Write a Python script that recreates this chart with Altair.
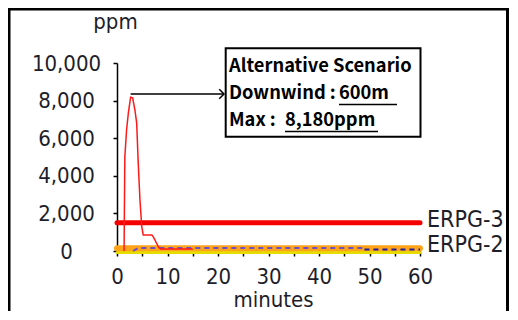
import altair as alt
import pandas as pd

# ---- data ----
red_t = [1.4, 1.55, 1.9, 2.25, 2.7, 3.1, 3.55, 3.9, 4.2, 4.55, 4.9, 5.2, 6.9, 7.2, 8.2, 8.6, 15.0]
red_ppm = [0, 5000, 6450, 7350, 8180, 8150, 7500, 6800, 4700, 2700, 1300, 850, 850, 750, 220, 110, 110]

dash1_t = [3.2, 4.2, 49]
dash1_ppm = [0, 160, 160]
dash2_t = [49, 60]
dash2_ppm = [80, 80]

erpg_names = ["ERPG-1", "ERPG-2", "ERPG-3"]
erpg_ppm = [25, 150, 1500]
erpg_colors = ["#e6dc00", "#ffa31a", "#f50000"]
erpg_widths = [3, 6, 5]
erpg_labelled = [False, True, True]
time_span = [0, 60]

x_ticks = list(range(0, 61, 5))
y_ticks = [0, 2000, 4000, 6000, 8000, 10000]

peak_t = 2.7
note_lines = ["Alternative Scenario", "Downwind :", "Max :"]
note_values = ["", "600m", "8,180ppm"]

FONT = "DejaVu Sans Condensed, DejaVu Sans, sans-serif"
BOLD = "Noto Sans CJK KR, Noto Sans, sans-serif"
TXT = "#1e1e2a"

W, H = 303, 188
PADL, PADT = 109, 55
CANVAS_W, CANVAS_H = 501, 303

x_axis = alt.Axis(values=x_ticks, labelExpr="datum.value % 10 == 0 ? datum.label : ''",
                  labelFlush=False, labelOverlap=False,
                  title="minutes", titleX=156, titleY=55, titleBaseline="alphabetic",
                  titleAlign="center", tickSize=5, labelPadding=10, grid=False)
y_axis = alt.Axis(values=y_ticks, labelExpr="format(datum.value, ',')", title="ppm",
                  labelFlush=False, labelOverlap=False,
                  titleAngle=0, titleX=-2, titleY=-35,
                  titleAlign="center", titleBaseline="alphabetic", tickSize=4,
                  labelAlign="center", labelBaseline="middle", labelPadding=47, grid=False)

def X(f):
    return alt.X(f"{f}:Q", scale=alt.Scale(domain=[0, 60], nice=False, zero=False), axis=x_axis)

def Y(f):
    return alt.Y(f"{f}:Q", scale=alt.Scale(domain=[0, 10000], nice=False), axis=y_axis)

one = pd.DataFrame({"a": [0]})

frame = alt.Chart(one).mark_rect(fillOpacity=0, stroke="black", strokeWidth=3).encode(
    x=alt.value(-108), x2=alt.value(CANVAS_W - PADL - 1.5), y=alt.value(-54), y2=alt.value(340))

layers = [frame]

for name, v, c, w in zip(erpg_names, erpg_ppm, erpg_colors, erpg_widths):
    d = pd.DataFrame({"t": time_span, "ppm": [v, v]})
    off = 2 if name == "ERPG-1" else 0
    layers.append(alt.Chart(d).mark_line(color=c, strokeWidth=w, strokeCap="round", yOffset=off)
                  .encode(x=X("t"), y=Y("ppm")))

d1 = pd.DataFrame({"t": dash1_t, "ppm": dash1_ppm})
d2 = pd.DataFrame({"t": dash2_t, "ppm": dash2_ppm})
layers.append(alt.Chart(d1).mark_line(color="#6a4fc8", strokeWidth=2, strokeDash=[5, 4])
              .encode(x=X("t"), y=Y("ppm")))
layers.append(alt.Chart(d2).mark_line(color="#1f1f99", strokeWidth=2, strokeDash=[5, 4])
              .encode(x=X("t"), y=Y("ppm")))

red = pd.DataFrame({"t": red_t, "ppm": red_ppm})
layers.append(alt.Chart(red).mark_line(color="#ff1a1a", strokeWidth=1.5)
              .encode(x=X("t"), y=Y("ppm")))

lab = pd.DataFrame({"name": [n for n, l in zip(erpg_names, erpg_labelled) if l],
                    "ppm": [v for v, l in zip(erpg_ppm, erpg_labelled) if l],
                    "t": [time_span[1]] * sum(erpg_labelled)})
layers.append(alt.Chart(lab).mark_text(align="left", baseline="middle", dx=7, dy=-3,
                                       font=FONT, fontSize=23, color=TXT)
              .encode(x=X("t"), y=Y("ppm"), text="name:N"))

# arrow from the peak to the note box
arr = pd.DataFrame({"t": [peak_t]})
layers.append(alt.Chart(arr).mark_rule(color="black", strokeWidth=1.5)
              .encode(x=X("t"), x2=alt.value(107), y=alt.value(31)))
layers.append(alt.Chart(one).mark_point(shape="M-1,-1L0,0L-1,1", filled=False, size=90,
                                        stroke="black", strokeWidth=1.5, opacity=1)
              .encode(x=alt.value(107), y=alt.value(31)))

# note box
layers.append(alt.Chart(one).mark_rect(fill="white", stroke="black", strokeWidth=2).encode(
    x=alt.value(108.7), x2=alt.value(303.5), y=alt.value(-14.7), y2=alt.value(73.7)))
NOTE_FS = 18.3
for i, line in enumerate(note_lines):
    layers.append(alt.Chart(one).mark_text(align="left", baseline="alphabetic", font=BOLD,
                                           fontSize=NOTE_FS, fontWeight="bold", color="black")
                  .encode(x=alt.value(112), y=alt.value(8.7 + 27.2 * i), text=alt.value(line)))
val_x = [0, 222, 168]
val_w = [0, 58, 93]
for i, v in enumerate(note_values):
    if not v:
        continue
    yb = 8.7 + 27.2 * i
    layers.append(alt.Chart(one).mark_text(align="left", baseline="alphabetic", font=BOLD,
                                           fontSize=NOTE_FS, fontWeight="bold", color="black")
                  .encode(x=alt.value(val_x[i]), y=alt.value(yb), text=alt.value(v)))
    layers.append(alt.Chart(one).mark_rule(color="black", strokeWidth=1.5)
                  .encode(x=alt.value(val_x[i]), x2=alt.value(val_x[i] + val_w[i]),
                          y=alt.value(yb + 5.5)))

chart = alt.layer(*layers).properties(
    width=W, height=H,
    autosize=alt.AutoSizeParams(type="none"),
    padding={"left": PADL, "top": PADT, "right": CANVAS_W - PADL - W, "bottom": CANVAS_H - PADT - H},
    background="white",
).configure_view(stroke=None).configure_axis(
    domainColor="black", domainWidth=1.5, tickColor="black", tickWidth=1.5,
    labelFont=FONT, labelFontSize=22, labelColor=TXT,
    titleFont=FONT, titleFontSize=22, titleFontWeight="normal", titleColor=TXT,
)

chart.save("out.html", embed_options={"renderer": "svg", "actions": False})
